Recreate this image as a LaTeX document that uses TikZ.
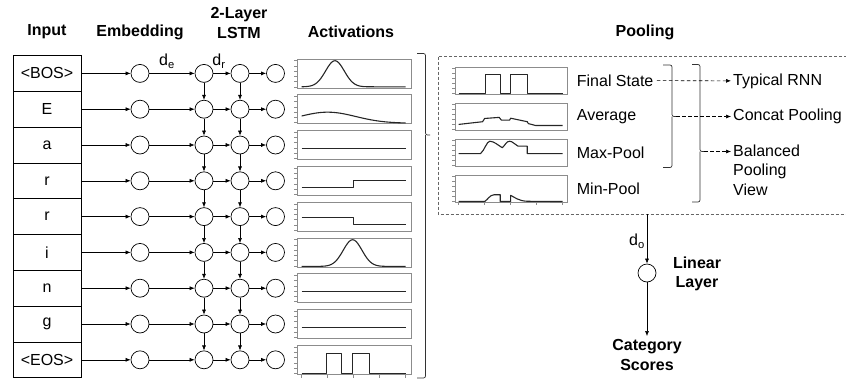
\documentclass[tikz,border=0pt]{standalone}
\usepackage{fontspec}
\setmainfont{Liberation Sans}
\usetikzlibrary{arrows.meta,positioning}

\newcommand{\figfont}{\fontsize{16}{19.5}\selectfont}

\tikzset{
    neuron/.style={circle, draw, fill=white, minimum size=18pt, inner sep=0pt, line width=0.7pt},
    tokbox/.style={rectangle, draw, minimum width=68pt, minimum height=35.8pt, inner sep=0pt, line width=0.7pt},
    head/.style={font=\figfont\bfseries, align=center},
    arr/.style={-{Latex[length=5pt,width=4pt]}, line width=0.6pt},
    darr/.style={arr, dash pattern=on 3.5pt off 2.5pt},
    brk/.style={line width=0.7pt, black!80, rounded corners=2pt},
    panel/.style={draw=black!45, line width=0.7pt, inner sep=0pt, minimum width=114pt, minimum height=29pt},
    poolpanel/.style={panel, minimum width=112pt, minimum height=27pt},
    sig/.style={line width=1.1pt, black!85, line join=round},
    tck/.style={black!45, line width=0.5pt},
    % local frames of the small plots: x runs 0..1 over the trace, y 0..1 bottom to top
    actframe/.style={shift={(#1.south west)}, xshift=5pt, x=104pt, y=29pt},
    poolframe/.style={shift={(#1.south west)}, xshift=4pt, x=104pt, y=27pt},
}

\begin{document}
\begin{tikzpicture}[x=1pt, y=-1pt, font=\figfont]
    \useasboundingbox (0,0) rectangle (846,381);

    % headers
    \node[head] (hIn) at (47,32) {Input};
    \node[head] (hEmb) at (140,32) {Embedding};
    \node[head] (hRnn) at (239,23) {2-Layer\\LSTM};
    \node[head] (hAct) at (351,32) {Activations};
    \node[head] (hPool) at (645,32) {Pooling};

    % token column, embedding, two lstm layers and outputs
    \foreach \tok [count=\i from 0] in {{<BOS>},E,a,r,r,i,n,g,{<EOS>}} {
        \pgfmathsetmacro\y{73.4+35.8*\i}
        \node[tokbox] (T\i) at (47,\y) {\tok};
        \node[neuron] (E\i) at (140,\y) {}; % embedding
        \node[neuron] (A\i) at (204,\y) {}; % lstm layer 1
        \node[neuron] (B\i) at (240,\y) {}; % lstm layer 2
        \node[neuron] (H\i) at (275.5,\y) {}; % hidden output
        \node[panel] (P\i) at (354,\y) {};
        \draw[arr] (T\i) -- (E\i);
        \draw[arr] (E\i) -- (A\i);
        \draw[arr] (A\i) -- (B\i);
        \draw[arr] (B\i) -- (H\i);
        \foreach \k in {0,...,5}
            \draw[tck, actframe=P\i] (0,0.05+0.18*\k) ++(-5pt,0) -- ++(-3pt,0);
    }
    \foreach \i in {0,...,7} {
        \pgfmathtruncatemacro\j{\i+1}
        \draw[arr] (A\i) -- (A\j);
        \draw[arr] (B\i) -- (B\j);
    }
    \node at (167,61) {d\textsubscript{e}};
    \node at (219,61) {d\textsubscript{r}};

    % activation traces
    \draw[sig, actframe=P0] plot[domain=0:1, samples=60, smooth] (\x, {0.05+0.9*exp(-((\x-0.32)^2)/(2*0.09^2))});
    \draw[sig, actframe=P1] plot[domain=0:1, samples=40, smooth] (\x, {0.03+0.38*exp(-((\x-0.25)^2)/(2*0.27^2))});
    \draw[sig, actframe=P2] (0,0.4) -- (1,0.4);
    \draw[sig, actframe=P3] (0,0.29) -- (0.5,0.29) -- (0.5,0.52) -- (1,0.52);
    \draw[sig, actframe=P4] (0,0.48) -- (0.5,0.48) -- (0.5,0.25) -- (1,0.25);
    \draw[sig, actframe=P5] plot[domain=0:1, samples=60, smooth] (\x, {0.03+0.92*exp(-((\x-0.49)^2)/(2*0.09^2))});
    \draw[sig, actframe=P6] (0,0.4) -- (1,0.4);
    \draw[sig, actframe=P7] (0,0.4) -- (1,0.4);
    \draw[sig, actframe=P8] (0,0.04) -- (0.24,0.04) -- (0.24,0.73) -- (0.38,0.73) -- (0.38,0.04)
        -- (0.49,0.04) -- (0.49,0.73) -- (0.65,0.73) -- (0.65,0.04) -- (1,0.04);
    \foreach \t in {0,0.25,...,1}
        \draw[tck, actframe=P8] (\t,0) -- ++(0,-3pt);

    % big brace over all time steps
    \draw[brk] (417,53.5) -| (425.5,135) -- (430,135);
    \draw[brk] (417,378) -| (425.5,135);

    % Pooling
    \draw[black!60, line width=0.7pt, dash pattern=on 3pt off 2pt] (438,56.5) rectangle (850,214);
    \foreach \i in {0,...,3} {
        \node[poolpanel] (Q\i) at (511,80.5+36*\i) {};
        \foreach \k in {0,...,5}
            \draw[tck, poolframe=Q\i] (0,0.05+0.18*\k) ++(-4pt,0) -- ++(-3pt,0);
    }
    \draw[sig, poolframe=Q0] (0,0.03) -- (0.26,0.03) -- (0.26,0.73) -- (0.40,0.73) -- (0.40,0.03)
        -- (0.5,0.03) -- (0.5,0.73) -- (0.66,0.73) -- (0.66,0.03) -- (1,0.03);
    \draw[sig, poolframe=Q1] (0,0.22) -- (0.23,0.32) -- (0.25,0.44) -- (0.39,0.48) -- (0.41,0.38)
        -- (0.49,0.38) -- (0.5,0.45) -- (0.66,0.32) -- (0.67,0.25) -- (0.74,0.18) -- (1,0.18);
    \draw[sig, poolframe=Q2] (0,0.47) -- (0.21,0.47) .. controls (0.25,0.6) and (0.27,0.93) .. (0.30,0.93)
        .. controls (0.34,0.93) and (0.38,0.78) .. (0.42,0.69) .. controls (0.45,0.8) and (0.46,0.93) .. (0.49,0.93)
        .. controls (0.52,0.93) and (0.54,0.8) .. (0.57,0.75) -- (0.66,0.75) -- (0.66,0.47) -- (1,0.47);
    \draw[sig, poolframe=Q3] (0,0.03) -- (0.25,0.03) .. controls (0.28,0.1) and (0.3,0.28) .. (0.34,0.28)
        -- (0.40,0.28) -- (0.40,0.03) -- (0.5,0.03) -- (0.5,0.26) .. controls (0.54,0.18) and (0.58,0.05) .. (0.66,0.04) -- (1,0.03);
    \foreach \t in {0,0.25,...,1}
        \draw[tck, poolframe=Q3] (\t,0) -- ++(0,-3pt);

    \node[right=6pt of Q0] (fs) {Final State};
    \node[right=6pt of Q1] (avg) {Average};
    \node[right=6pt of Q2] (mx) {Max-Pool};
    \node[right=6pt of Q3] (mn) {Min-Pool};

    \node[anchor=west, inner sep=2pt] (typ) at (731,81) {Typical RNN};
    \node[anchor=west, inner sep=2pt] (cat) at (731,116.5) {Concat Pooling};
    \node[anchor=north west, inner sep=2pt, align=left] (bal) at (731,142.5) {Balanced\\Pooling\\View};

    % brackets grouping the pooled views
    \coordinate (c1) at (676,116.5);
    \coordinate (c2) at (704,151.5);
    \draw[brk] (663,65) -| (672,116.5) -- (c1);
    \draw[brk] (663,167.5) -| (672,116.5);
    \draw[brk] (692,64.5) -| (700,151.5) -- (c2);
    \draw[brk] (692,202) -| (700,151.5);

    \draw[darr] (fs) -- (typ);
    \draw[darr] (c1) -- (cat);
    \draw[darr] (c2) -- (c2 -| bal.west);

    % linear layer to the scores
    \coordinate (pout) at (647,214);
    \node[neuron] (lin) at (647,273) {};
    \node at (637,241) {d\textsubscript{o}};
    \node[head] (lbl) at (697,274) {Linear\\Layer};
    \node[head] (score) at (647,355) {Category\\Scores};
    \draw[arr] (pout) -- (lin);
    \draw[arr] (lin) -- (score);
\end{tikzpicture}
\end{document}
